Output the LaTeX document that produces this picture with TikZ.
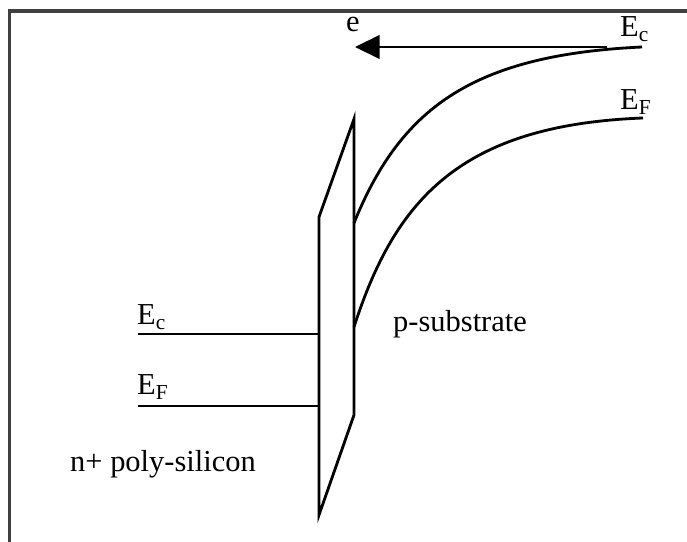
\documentclass[tikz,border=0pt]{standalone}
\usepackage{fontspec}
\setmainfont{Liberation Serif}
\usepackage{tikz}
\usetikzlibrary{arrows.meta}

\begin{document}
\begin{tikzpicture}[x=0.03cm,y=-0.03cm,
    band/.style={line width=2.4pt},
    lbl/.style={font=\fontsize{26}{28}\selectfont,inner sep=0pt,anchor=base west}]
  \useasboundingbox (0,0) rectangle (687,542);
  \draw[line width=2.6pt,black!75] (9.5,542) -- (9.5,11) -- (687,11);
  % oxide
  \draw[band,line join=miter] (319,217) -- (354,119) -- (354,415) -- (319,515) -- cycle;
  % gate side
  \begin{scope}
      \coordinate (gEc) at (138,334); \coordinate (oxEc) at (319,334);
      \coordinate (gEf) at (138,406); \coordinate (oxEf) at (319,406);
      \draw[band] (gEc) -- (oxEc); \draw[band] (gEf) -- (oxEf);
      \node[lbl] (lEcL) at (137,325) {E\textsubscript{c}};
      \node[lbl] (lEfL) at (137,395) {E\textsubscript{F}};
      \node[lbl] (lGate) at (70,472) {n+ poly-silicon};
  \end{scope}
  % substrate side
  \begin{scope}
      \coordinate (sEc) at (354,223); \coordinate (bEc) at (642,47);
      \coordinate (sEf) at (354,327); \coordinate (bEf) at (643,118);
      \draw[band] (sEc) .. controls (400,110) and (470,55) .. (bEc);
      \draw[band] (sEf) .. controls (395,200) and (460,125) .. (bEf);
      \coordinate (eFrom) at (607,47); \coordinate (eTo) at (355,47);
      \draw[band,-{Triangle[length=21pt,width=20pt]}] (eFrom) -- (eTo);
      \node[lbl] (lE) at (346,32) {e};
      \node[lbl] (lEcR) at (620,37) {E\textsubscript{c}};
      \node[lbl] (lEfR) at (620,110) {E\textsubscript{F}};
      \node[lbl] (lSub) at (393,332) {p-substrate};
  \end{scope}
\end{tikzpicture}
\end{document}
